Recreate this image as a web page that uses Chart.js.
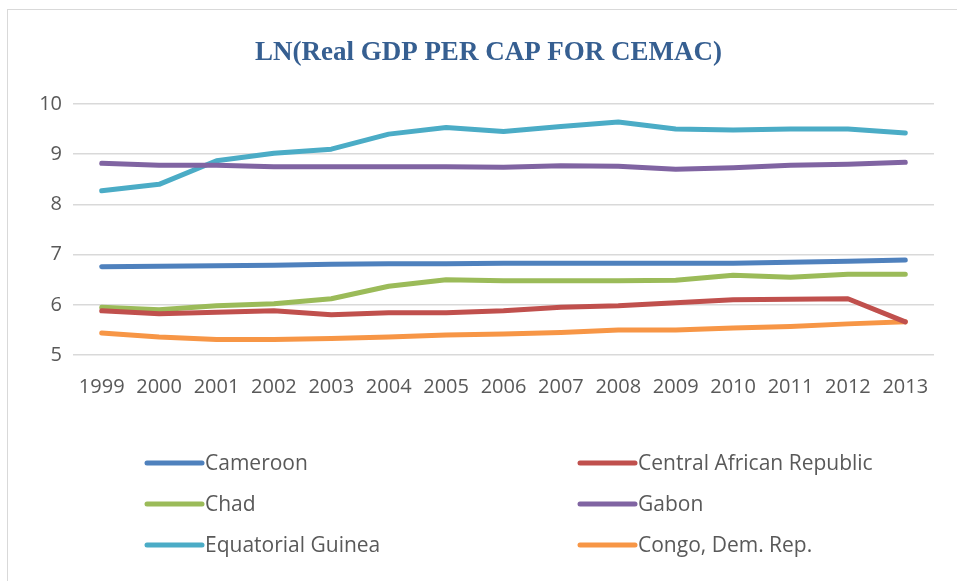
<!DOCTYPE html>
<html>
<head>
<meta charset="utf-8">
<script src="https://cdn.jsdelivr.net/npm/chart.js@4.4.1/dist/chart.umd.min.js"></script>
<style>
  html, body { margin: 0; padding: 0; background: #fff; overflow: hidden; }
  #wrap { position: relative; width: 957px; height: 581px; overflow: hidden; }
  #frame {
    position: absolute; left: 7px; top: 9px; width: 990px; height: 600px;
    border-left: 1.5px solid #d9d9d9; border-top: 1.5px solid #d9d9d9;
    pointer-events: none;
  }
</style>
</head>
<body>
<div id="wrap">
  <canvas id="gdpChart" width="957" height="581"></canvas>
  <div id="frame"></div>
</div>
<script>
/* ---------- data ---------- */
const years = ["1999", "2000", "2001", "2002", "2003", "2004", "2005", "2006",
               "2007", "2008", "2009", "2010", "2011", "2012", "2013"];

const countries = ["Cameroon", "Central African Republic", "Chad", "Gabon",
                   "Equatorial Guinea", "Congo, Dem. Rep."];

const cameroon = [6.76, 6.77, 6.78, 6.79, 6.81, 6.82, 6.82, 6.83, 6.83, 6.83, 6.83, 6.83, 6.85, 6.87, 6.89];
const car      = [5.88, 5.82, 5.85, 5.88, 5.80, 5.84, 5.84, 5.88, 5.95, 5.98, 6.04, 6.10, 6.11, 6.12, 5.66];
const chad     = [5.95, 5.90, 5.98, 6.02, 6.12, 6.37, 6.50, 6.48, 6.48, 6.48, 6.49, 6.59, 6.55, 6.61, 6.61];
const gabon    = [8.82, 8.78, 8.78, 8.75, 8.75, 8.75, 8.75, 8.74, 8.77, 8.76, 8.70, 8.73, 8.78, 8.80, 8.84];
const eqGuinea = [8.27, 8.40, 8.87, 9.02, 9.10, 9.40, 9.53, 9.45, 9.55, 9.64, 9.50, 9.48, 9.50, 9.50, 9.42];
const congoDR  = [5.44, 5.36, 5.31, 5.31, 5.33, 5.36, 5.40, 5.42, 5.45, 5.50, 5.50, 5.54, 5.57, 5.62, 5.66];

const yTicks = [5, 6, 7, 8, 9, 10];

const seriesValues = [cameroon, car, chad, gabon, eqGuinea, congoDR];
const colors = ["#4f81bd", "#c0504d", "#9bbb59", "#8064a2", "#4bacc6", "#f79646"];

const TITLE = "LN(Real GDP PER CAP FOR CEMAC)";
const TICK_FONT = { family: "'Open Sans', sans-serif", size: 20 };
const TEXT_GREY = "#595959";

/* ---------- titre (centré sur le cadre, pas sur le canvas) ---------- */
const frameTitle = {
  id: "frameTitle",
  afterDraw(chart) {
    const { ctx, chartArea } = chart;
    ctx.save();
    ctx.font = "bold 27px 'Liberation Serif', 'Times New Roman', serif";
    ctx.fillStyle = "#365f91";
    ctx.textAlign = "center";
    ctx.textBaseline = "middle";
    ctx.fillText(TITLE, (chartArea.left + chartArea.right) / 2 - 15, chartArea.top - 51);
    ctx.restore();
  }
};

/* ---------- legend en 2 colonnes (style Excel) ---------- */
const twoColLegend = {
  id: "twoColLegend",
  afterDraw(chart) {
    const { ctx, chartArea } = chart;
    const colX = [chartArea.left + 74, chartArea.left + 507];
    const rowY0 = chartArea.bottom + 108;
    const rowGap = 41;
    const lineLen = 55;

    ctx.save();
    ctx.font = "21px 'Open Sans', sans-serif";
    ctx.textBaseline = "middle";
    ctx.textAlign = "left";
    chart.data.datasets.forEach((ds, i) => {
      const x = colX[i % 2];
      const y = rowY0 + Math.floor(i / 2) * rowGap;
      ctx.strokeStyle = ds.borderColor;
      ctx.lineWidth = 5;
      ctx.lineCap = "round";
      ctx.beginPath();
      ctx.moveTo(x, y);
      ctx.lineTo(x + lineLen, y);
      ctx.stroke();
      ctx.fillStyle = TEXT_GREY;
      ctx.fillText(ds.label, x + lineLen + 3, y + 1);
    });
    ctx.restore();
  }
};

const canvas = document.getElementById("gdpChart");

new Chart(canvas, {
  type: "line",
  data: {
    labels: years,
    datasets: countries.map((name, i) => ({
      label: name,
      data: seriesValues[i],
      borderColor: colors[i],
      backgroundColor: colors[i],
      borderWidth: 5,
      borderCapStyle: "round",
      borderJoinStyle: "round",
      pointRadius: 0,
      tension: 0,
      fill: false
    }))
  },
  options: {
    responsive: false,
    animation: false,
    layout: {
      padding: { left: 0, right: 23, top: 104, bottom: 0 }
    },
    plugins: {
      legend: { display: false },
      tooltip: { enabled: false },
      title: { display: false }
    },
    scales: {
      x: {
        offset: true,
        grid: { display: false, drawTicks: false },
        border: { display: false },
        ticks: {
          color: TEXT_GREY,
          font: TICK_FONT,
          padding: 20,
          maxRotation: 0,
          autoSkip: false
        },
        afterFit(scale) { scale.height = 226; }
      },
      y: {
        min: 5,
        max: 10,
        afterBuildTicks(scale) {
          scale.ticks = yTicks.map(v => ({ value: v }));
        },
        grid: { color: "#d9d9d9", lineWidth: 1.5, drawTicks: false },
        border: { display: false },
        ticks: {
          color: TEXT_GREY,
          font: TICK_FONT,
          padding: 11
        },
        afterFit(scale) { scale.width = 73; }
      }
    }
  },
  plugins: [frameTitle, twoColLegend]
});
</script>
</body>
</html>
